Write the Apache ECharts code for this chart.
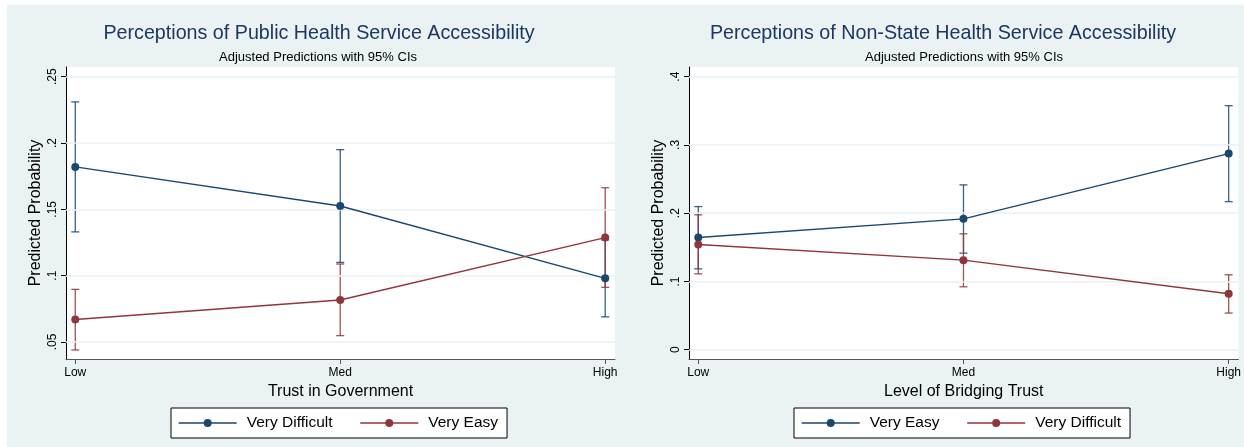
<!DOCTYPE html>
<html>
<head>
<meta charset="utf-8">
<script src="https://cdn.jsdelivr.net/npm/echarts@6/dist/echarts.min.js"></script>
<style>
html,body{margin:0;padding:0;background:#fff;}
#c{width:1244px;height:447px;}
</style>
</head>
<body>
<div id="c"></div>
<script>
// ---------- data ----------
const xCategories = ['Low', 'Med', 'High'];
const xPositions = [0, 1, 2];

// Left panel: Public health service accessibility, by trust in government
const pubDifficult   = [0.182, 0.1525, 0.098];
const pubDifficultLo = [0.133, 0.110, 0.069];
const pubDifficultHi = [0.231, 0.195, 0.127];
const pubEasy        = [0.067, 0.0817, 0.1287];
const pubEasyLo      = [0.044, 0.0548, 0.0912];
const pubEasyHi      = [0.0897, 0.1088, 0.1663];
const pubYTicks      = [0.05, 0.1, 0.15, 0.2, 0.25];
const pubYLabels     = ['.05', '.1', '.15', '.2', '.25'];

// Right panel: Non-state health service accessibility, by bridging trust
const nsEasy         = [0.1643, 0.1917, 0.2873];
const nsEasyLo       = [0.1185, 0.1415, 0.217];
const nsEasyHi       = [0.2097, 0.2415, 0.3576];
const nsDifficult    = [0.1541, 0.1312, 0.082];
const nsDifficultLo  = [0.1112, 0.0922, 0.0537];
const nsDifficultHi  = [0.1976, 0.1698, 0.1098];
const nsYTicks       = [0, 0.1, 0.2, 0.3, 0.4];
const nsYLabels      = ['0', '.1', '.2', '.3', '.4'];

// ---------- styling ----------
const BLUE = '#1a476f';
const RED = '#90353b';
const BG = '#eaf2f3';
const FONT = 'Liberation Sans, Arial, sans-serif';

const pts = (ys) => ys.map((y, i) => [xPositions[i], y]);
const ci = (lo, hi) => lo.map((l, i) => [xPositions[i], l, hi[i]]);

function errRender(color) {
  return function (params, api) {
    const x = api.value(0), lo = api.value(1), hi = api.value(2);
    const a = api.coord([x, lo]), b = api.coord([x, hi]);
    const w = 4;
    const style = { stroke: color, lineWidth: 1.3, opacity: 0.85 };
    return {
      type: 'group',
      children: [
        { type: 'line', shape: { x1: a[0], y1: a[1], x2: b[0], y2: b[1] }, style },
        { type: 'line', shape: { x1: a[0] - w, y1: a[1], x2: a[0] + w, y2: a[1] }, style },
        { type: 'line', shape: { x1: b[0] - w, y1: b[1], x2: b[0] + w, y2: b[1] }, style }
      ]
    };
  };
}

function xAxisCfg(gi, name) {
  return {
    type: 'value', gridIndex: gi, min: -0.035, max: 2.037,
    name: name, nameLocation: 'middle', nameGap: 23,
    nameTextStyle: { fontFamily: FONT, fontSize: 16, color: '#000' },
    axisLine: { show: true, onZero: false, lineStyle: { color: '#555', width: 1 } },
    axisTick: { show: true, customValues: xPositions, length: 5, lineStyle: { color: '#555' } },
    axisLabel: {
      customValues: xPositions, margin: 8, fontFamily: FONT, fontSize: 12, color: '#000',
      formatter: (v) => xCategories[Math.round(v)]
    },
    splitLine: { show: false }
  };
}

function yAxisCfg(gi, min, max, ticks, labels) {
  return {
    type: 'value', gridIndex: gi, min: min, max: max,
    name: 'Predicted Probability', nameLocation: 'middle', nameGap: 22,
    nameTextStyle: { fontFamily: FONT, fontSize: 16, color: '#000' },
    axisLine: { show: true, onZero: false, lineStyle: { color: '#000', width: 1 } },
    axisTick: { show: true, customValues: ticks, length: 5, lineStyle: { color: '#000' } },
    axisLabel: {
      customValues: ticks, rotate: 90, margin: 7, fontFamily: FONT, fontSize: 12, color: '#000',
      formatter: (v) => labels[ticks.findIndex(t => Math.abs(t - v) < 1e-9)]
    },
    splitLine: { show: false }
  };
}

function gridLines(ticks) {
  return {
    silent: true, symbol: 'none', animation: false,
    label: { show: false },
    lineStyle: { color: BG, type: 'solid', width: 1.5 },
    data: ticks.map(t => ({ yAxis: t }))
  };
}

function lineSeries(name, gi, ys, color, marks) {
  const s = {
    name: name, type: 'line', xAxisIndex: gi, yAxisIndex: gi,
    data: pts(ys), symbol: 'circle', symbolSize: 8, showSymbol: true,
    lineStyle: { color: color, width: 1.4 },
    itemStyle: { color: color },
    z: 5, animation: false
  };
  if (marks) s.markLine = marks;
  return s;
}

function ciSeries(name, gi, lo, hi, color) {
  return {
    name: name, type: 'custom', xAxisIndex: gi, yAxisIndex: gi,
    data: ci(lo, hi), encode: { x: 0, y: [1, 2] },
    renderItem: errRender(color), z: 3, animation: false
  };
}

function legendCfg(left, items) {
  return {
    left: left, top: 408, orient: 'horizontal',
    padding: [7, 9, 7, 7], itemGap: 27, itemWidth: 58, itemHeight: 10,
    backgroundColor: '#fff', borderColor: '#000', borderWidth: 1, borderRadius: 0,
    textStyle: { fontFamily: FONT, fontSize: 15.5, color: '#000', padding: [0, 0, 0, 5] },
    selectedMode: false,
    data: items.map(([n, c]) => ({ name: n, itemStyle: { color: c }, lineStyle: { color: c, width: 1.4 } }))
  };
}

const chart = echarts.init(document.getElementById('c'), null, { renderer: 'canvas' });
chart.setOption({
  backgroundColor: '#fff',
  animation: false,
  graphic: [{
    type: 'rect', left: 7, top: 5, z: -100,
    shape: { width: 1237, height: 442 },
    style: { fill: BG }
  }],
  title: [
    { text: 'Perceptions of Public Health Service Accessibility', left: 314, top: 19, textAlign: 'center',
      textStyle: { fontFamily: FONT, fontSize: 19.7, fontWeight: 'normal', color: '#1c3764' } },
    { text: 'Adjusted Predictions with 95% CIs', left: 313, top: 46, textAlign: 'center',
      textStyle: { fontFamily: FONT, fontSize: 13, fontWeight: 'normal', color: '#000' } },
    { text: 'Perceptions of Non-State Health Service Accessibility', left: 938, top: 19, textAlign: 'center',
      textStyle: { fontFamily: FONT, fontSize: 19.7, fontWeight: 'normal', color: '#1c3764' } },
    { text: 'Adjusted Predictions with 95% CIs', left: 959, top: 46, textAlign: 'center',
      textStyle: { fontFamily: FONT, fontSize: 13, fontWeight: 'normal', color: '#000' } }
  ],
  grid: [
    { left: 66, top: 67, width: 549, height: 292, show: true, backgroundColor: '#fff', borderWidth: 0 },
    { left: 689, top: 67, width: 550, height: 292, show: true, backgroundColor: '#fff', borderWidth: 0 }
  ],
  xAxis: [xAxisCfg(0, 'Trust in Government'), xAxisCfg(1, 'Level of Bridging Trust')],
  yAxis: [yAxisCfg(0, 0.0372, 0.2573, pubYTicks, pubYLabels), yAxisCfg(1, -0.0136, 0.4142, nsYTicks, nsYLabels)],
  legend: [
    legendCfg(171, [['Very Difficult', BLUE], ['Very Easy', RED]]),
    legendCfg(794, [['Very Easy', BLUE], ['Very Difficult', RED]])
  ],
  series: [
    ciSeries('Very Difficult CI', 0, pubDifficultLo, pubDifficultHi, BLUE),
    ciSeries('Very Easy CI', 0, pubEasyLo, pubEasyHi, RED),
    lineSeries('Very Difficult', 0, pubDifficult, BLUE, gridLines(pubYTicks)),
    lineSeries('Very Easy', 0, pubEasy, RED),
    ciSeries('NS Very Easy CI', 1, nsEasyLo, nsEasyHi, BLUE),
    ciSeries('NS Very Difficult CI', 1, nsDifficultLo, nsDifficultHi, RED),
    lineSeries('Very Easy', 1, nsEasy, BLUE, gridLines(nsYTicks)),
    lineSeries('Very Difficult', 1, nsDifficult, RED)
  ]
});
</script>
</body>
</html>
